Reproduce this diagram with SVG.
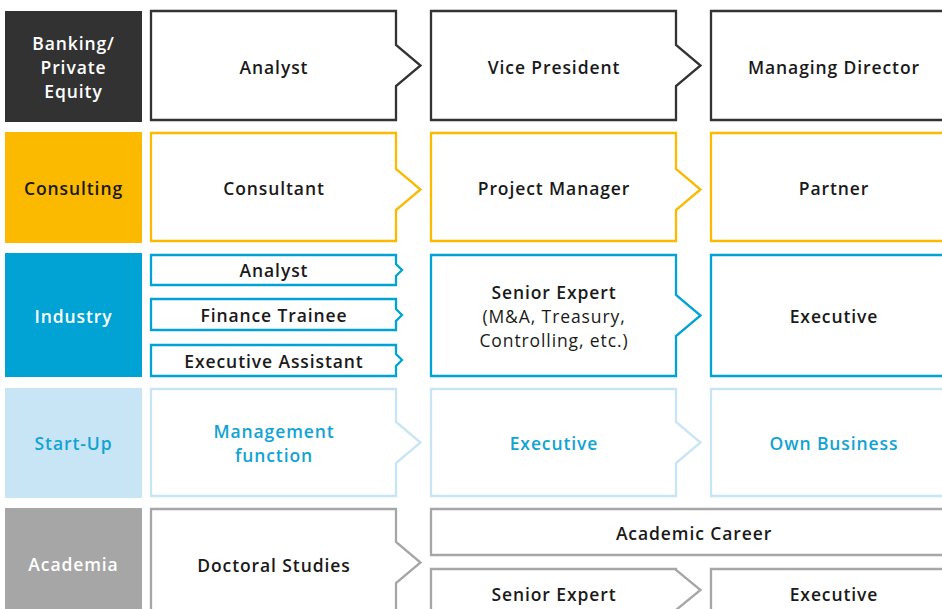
<svg xmlns="http://www.w3.org/2000/svg" width="942" height="609" viewBox="0 0 942 609">
<style>
text{font-family:"Open Sans","Liberation Sans",sans-serif;font-size:17.5px;font-weight:600;letter-spacing:0.9px;text-anchor:middle;dominant-baseline:central}
.b{fill:none;stroke-width:2.3}
.dk{stroke:#333333}.yl{stroke:#fbb900}.bl{stroke:#00a3d4}.lb{stroke:#c8e5f5}.gr{stroke:#a6a6a6}
.tw{fill:#ffffff}.td{fill:#1a1a1a}.tb{fill:#12a3d3}
.r{font-weight:400}
</style>
<rect width="942" height="609" fill="#ffffff"/>
<g id="banking">
<rect x="5" y="11" width="137" height="111" fill="#323232"/>
<text class="tw" x="73.5" y="43">Banking/</text>
<text class="tw" x="73.5" y="67">Private</text>
<text class="tw" x="73.5" y="91">Equity</text>
</g>
<g id="banking-analyst"><path class="b dk" d="M151,11 H396 V45 L420.5,65.5 L396,86 V120 H151 Z"/><text class="td" x="274" y="67">Analyst</text></g>
<g id="banking-vp"><path class="b dk" d="M431,11 H676 V45 L700.5,65.5 L676,86 V120 H431 Z"/><text class="td" x="554" y="67">Vice President</text></g>
<g id="banking-md"><path class="b dk" d="M711,11 H960 V120 H711 Z"/><text class="td" x="834" y="67">Managing Director</text></g>

<g id="consulting">
<rect x="5" y="132" width="137" height="111" fill="#fbb900"/>
<text class="td" x="73.5" y="188">Consulting</text>
</g>
<g id="consulting-consultant"><path class="b yl" d="M151,133 H396 V169 L420.5,189.5 L396,210 V241 H151 Z"/><text class="td" x="274" y="188">Consultant</text></g>
<g id="consulting-pm"><path class="b yl" d="M431,133 H676 V169 L700.5,189.5 L676,210 V241 H431 Z"/><text class="td" x="554" y="188">Project Manager</text></g>
<g id="consulting-partner"><path class="b yl" d="M711,133 H960 V241 H711 Z"/><text class="td" x="834" y="188">Partner</text></g>

<g id="industry">
<rect x="5" y="253" width="137" height="124" fill="#00a3d4"/>
<text class="tw" x="73.5" y="316">Industry</text>
</g>
<g id="industry-analyst"><path class="b bl" d="M151,255 H396 V264 L402,270 L396,276 V285 H151 Z"/><text class="td" x="274" y="270">Analyst</text></g>
<g id="industry-trainee"><path class="b bl" d="M151,299 H396 V309 L402,315 L396,321 V330 H151 Z"/><text class="td" x="274" y="315">Finance Trainee</text></g>
<g id="industry-ea"><path class="b bl" d="M151,345 H396 V354 L402,360 L396,366 V376 H151 Z"/><text class="td" x="274" y="361">Executive Assistant</text></g>
<g id="industry-senior"><path class="b bl" d="M431,255 H676 V295 L700.5,315.5 L676,336 V376 H431 Z"/>
<text class="td" x="554" y="292">Senior Expert</text>
<text class="td r" x="554" y="316">(M&amp;A, Treasury,</text>
<text class="td r" x="554" y="340">Controlling, etc.)</text></g>
<g id="industry-exec"><path class="b bl" d="M711,255 H960 V376 H711 Z"/><text class="td" x="834" y="316">Executive</text></g>

<g id="startup">
<rect x="5" y="388" width="137" height="110" fill="#c8e5f5"/>
<text class="tb" x="73.5" y="443">Start-Up</text>
</g>
<g id="startup-mgmt"><path class="b lb" d="M151,389 H396 V422 L420.5,442.5 L396,463 V496 H151 Z"/><text class="tb" x="274" y="431">Management</text><text class="tb" x="274" y="455">function</text></g>
<g id="startup-exec"><path class="b lb" d="M431,389 H676 V422 L700.5,442.5 L676,463 V496 H431 Z"/><text class="tb" x="554" y="443">Executive</text></g>
<g id="startup-own"><path class="b lb" d="M711,389 H960 V496 H711 Z"/><text class="tb" x="834" y="443">Own Business</text></g>

<g id="academia">
<rect x="5" y="508" width="137" height="101" fill="#a6a6a6"/>
<text class="tw" x="73.5" y="564">Academia</text>
</g>
<g id="academia-doctoral"><path class="b gr" d="M151,620 V509 H396 V542 L420.5,562.5 L396,583 V620"/><text class="td" x="274" y="565">Doctoral Studies</text></g>
<g id="academia-career"><path class="b gr" d="M431,509 H960 V555 H431 Z"/><text class="td" x="694" y="533">Academic Career</text></g>
<g id="academia-senior"><path class="b gr" d="M431,620 V569 H676 V570 L700.5,590 L676,610"/><text class="td" x="554" y="594">Senior Expert</text></g>
<g id="academia-exec"><path class="b gr" d="M711,620 V569 H960"/><text class="td" x="834" y="594">Executive</text></g>
</svg>
